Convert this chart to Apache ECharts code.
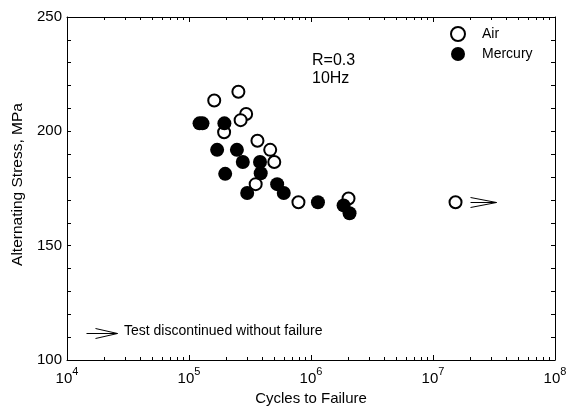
<!DOCTYPE html>
<html>
<head>
<meta charset="utf-8">
<script src="https://cdn.jsdelivr.net/npm/echarts@6/dist/echarts.min.js"></script>
<style>
  html, body { margin: 0; padding: 0; background: #fff; }
  #chart { width: 575px; height: 413px; }
</style>
</head>
<body>
<div id="chart"></div>
<script>
// ---- data ----
const airCycles = [1.61e5, 2.54e5, 2.94e5, 2.65e5, 1.94e5, 3.64e5, 4.63e5, 5.0e5, 3.52e5, 7.89e5, 2.03e6, 1.53e7];
const airStress = [213.5, 217.3, 207.6, 204.9, 199.6, 195.9, 191.9, 186.6, 176.9, 169.0, 170.6, 169.0];
const mercuryCycles = [1.22e5, 1.29e5, 1.95e5, 1.70e5, 2.47e5, 2.76e5, 3.82e5, 3.87e5, 1.98e5, 5.28e5, 5.98e5, 3.0e5, 1.14e6, 1.85e6, 2.07e6];
const mercuryStress = [203.5, 203.5, 203.5, 191.9, 191.9, 186.6, 186.6, 181.7, 181.4, 176.9, 173.0, 173.0, 169.0, 167.6, 164.2];
// run-out (test discontinued) points
const runoutCycles = [1.53e7];
const runoutStress = [169.0];
// axis ticks
const xDecades = [4, 5, 6, 7, 8];
const xMinorMultipliers = [2, 3, 4, 5, 6, 7, 8, 9];
const yTicks = [100, 150, 200, 250];
const seriesNames = ['Air', 'Mercury'];
const noteLines = ['R=0.3', '10Hz'];
const runoutNote = 'Test discontinued without failure';

const FONT = '"Liberation Sans", Arial, sans-serif';

const airData = airCycles.map((c, i) => [c, airStress[i]]);
const mercuryData = mercuryCycles.map((c, i) => [c, mercuryStress[i]]);
const runoutData = runoutCycles.map((c, i) => [c, runoutStress[i]]);
const minorTickData = [];
xDecades.slice(0, -1).forEach(d => xMinorMultipliers.forEach(m => minorTickData.push([m * Math.pow(10, d), yTicks[0]])));

const xMin = Math.pow(10, xDecades[0]);
const xMax = Math.pow(10, xDecades[xDecades.length - 1]);
const yMin = yTicks[0], yMax = yTicks[yTicks.length - 1];

function crisp(v) { return Math.round(v) + 0.5; }

function arrowShape(x0, x1, wingX, y, spread) {
  return [
    { type: 'line', shape: { x1: x0, y1: y, x2: x1, y2: y }, style: { stroke: '#000', lineWidth: 1 } },
    { type: 'line', shape: { x1: wingX, y1: y - spread, x2: x1, y2: y }, style: { stroke: '#000', lineWidth: 1 } },
    { type: 'line', shape: { x1: wingX, y1: y + spread, x2: x1, y2: y }, style: { stroke: '#000', lineWidth: 1 } }
  ];
}

const chart = echarts.init(document.getElementById('chart'), null, { renderer: 'canvas' });

const baseX = {
  type: 'log', logBase: 10, min: xMin, max: xMax,
  axisLine: { show: true, lineStyle: { color: '#000', width: 1 } },
  axisTick: { show: true, inside: true, length: 5, lineStyle: { color: '#000' } },
  splitLine: { show: false },
  minorTick: { show: false }
};
const baseY = {
  type: 'value', min: yMin, max: yMax, interval: 50,
  axisLine: { show: true, lineStyle: { color: '#000', width: 1 } },
  axisTick: { show: true, inside: true, length: 4, lineStyle: { color: '#000' } },
  minorTick: { show: true, splitNumber: 5, length: 4, lineStyle: { color: '#000' } },
  splitLine: { show: false },
  minorSplitLine: { show: false }
};

chart.setOption({
  animation: false,
  backgroundColor: '#fff',
  textStyle: { fontFamily: FONT },
  grid: { left: 67, right: 20, top: 17, bottom: 53, containLabel: false },
  legend: {
    data: seriesNames,
    orient: 'vertical',
    left: 445, top: 21,
    itemWidth: 14, itemHeight: 14, itemGap: 5,
    textStyle: { fontFamily: FONT, fontSize: 14, color: '#000', padding: [0, 0, 0, 12] }
  },
  xAxis: [
    Object.assign({}, baseX, {
      position: 'bottom',
      name: 'Cycles to Failure', nameLocation: 'middle', nameGap: 28,
      nameTextStyle: { fontFamily: FONT, fontSize: 15, color: '#000' },
      axisLabel: {
        margin: 6, color: '#000',
        formatter: v => '{b|10}{s|' + Math.round(Math.log10(v)) + '}',
        rich: {
          b: { fontFamily: FONT, fontSize: 15, lineHeight: 20, verticalAlign: 'bottom', color: '#000' },
          s: { fontFamily: FONT, fontSize: 11, lineHeight: 20, verticalAlign: 'top', color: '#000' }
        }
      }
    }),
    Object.assign({}, baseX, { position: 'top', axisLabel: { show: false } })
  ],
  yAxis: [
    Object.assign({}, baseY, {
      position: 'left',
      name: 'Alternating Stress, MPa', nameLocation: 'middle', nameGap: 41,
      nameTextStyle: { fontFamily: FONT, fontSize: 15.5, color: '#000', padding: [0, 0, 0, 8] },
      axisLabel: { margin: 5, color: '#000', fontFamily: FONT, fontSize: 15 }
    }),
    Object.assign({}, baseY, { position: 'right', axisLabel: { show: false } })
  ],
  series: [
    {
      name: seriesNames[0], type: 'scatter', data: airData,
      symbol: 'circle', symbolSize: 12,
      itemStyle: { color: '#fff', borderColor: '#000', borderWidth: 2, opacity: 1 },
      z: 3
    },
    {
      name: seriesNames[1], type: 'scatter', data: mercuryData,
      symbol: 'circle', symbolSize: 14,
      itemStyle: { color: '#000', borderColor: '#000', borderWidth: 0, opacity: 1 },
      z: 4
    },
    {
      name: 'runoutArrow', type: 'custom', data: runoutData, silent: true, z: 5,
      renderItem: (params, api) => {
        const p = api.coord([api.value(0), api.value(1)]);
        const y = crisp(p[1]);
        return { type: 'group', children: arrowShape(p[0] + 15, p[0] + 41, p[0] + 15, y, 5) };
      }
    },
    {
      name: 'minorTicks', type: 'custom', data: minorTickData, silent: true, z: 2,
      renderItem: (params, api) => {
        const x = api.value(0);
        const pb = api.coord([x, yMin]);
        const pt = api.coord([x, yMax]);
        const px = crisp(pb[0]);
        return {
          type: 'group', children: [
            { type: 'line', shape: { x1: px, y1: pb[1], x2: px, y2: pb[1] - 3 }, style: { stroke: '#000', lineWidth: 1 } },
            { type: 'line', shape: { x1: px, y1: pt[1], x2: px, y2: pt[1] + 3 }, style: { stroke: '#000', lineWidth: 1 } }
          ]
        };
      }
    }
  ],
  graphic: [
    {
      type: 'text', left: 312, top: 52,
      style: { text: noteLines.join('\n'), fontFamily: FONT, fontSize: 16, lineHeight: 18, fill: '#000' }
    },
    {
      type: 'group', left: 84, top: 326,
      children: arrowShape(0, 31, 9, 5.5, 5)
    },
    {
      type: 'text', left: 124, top: 324,
      style: { text: runoutNote, fontFamily: FONT, fontSize: 14, fill: '#000' }
    }
  ]
});
</script>
</body>
</html>
